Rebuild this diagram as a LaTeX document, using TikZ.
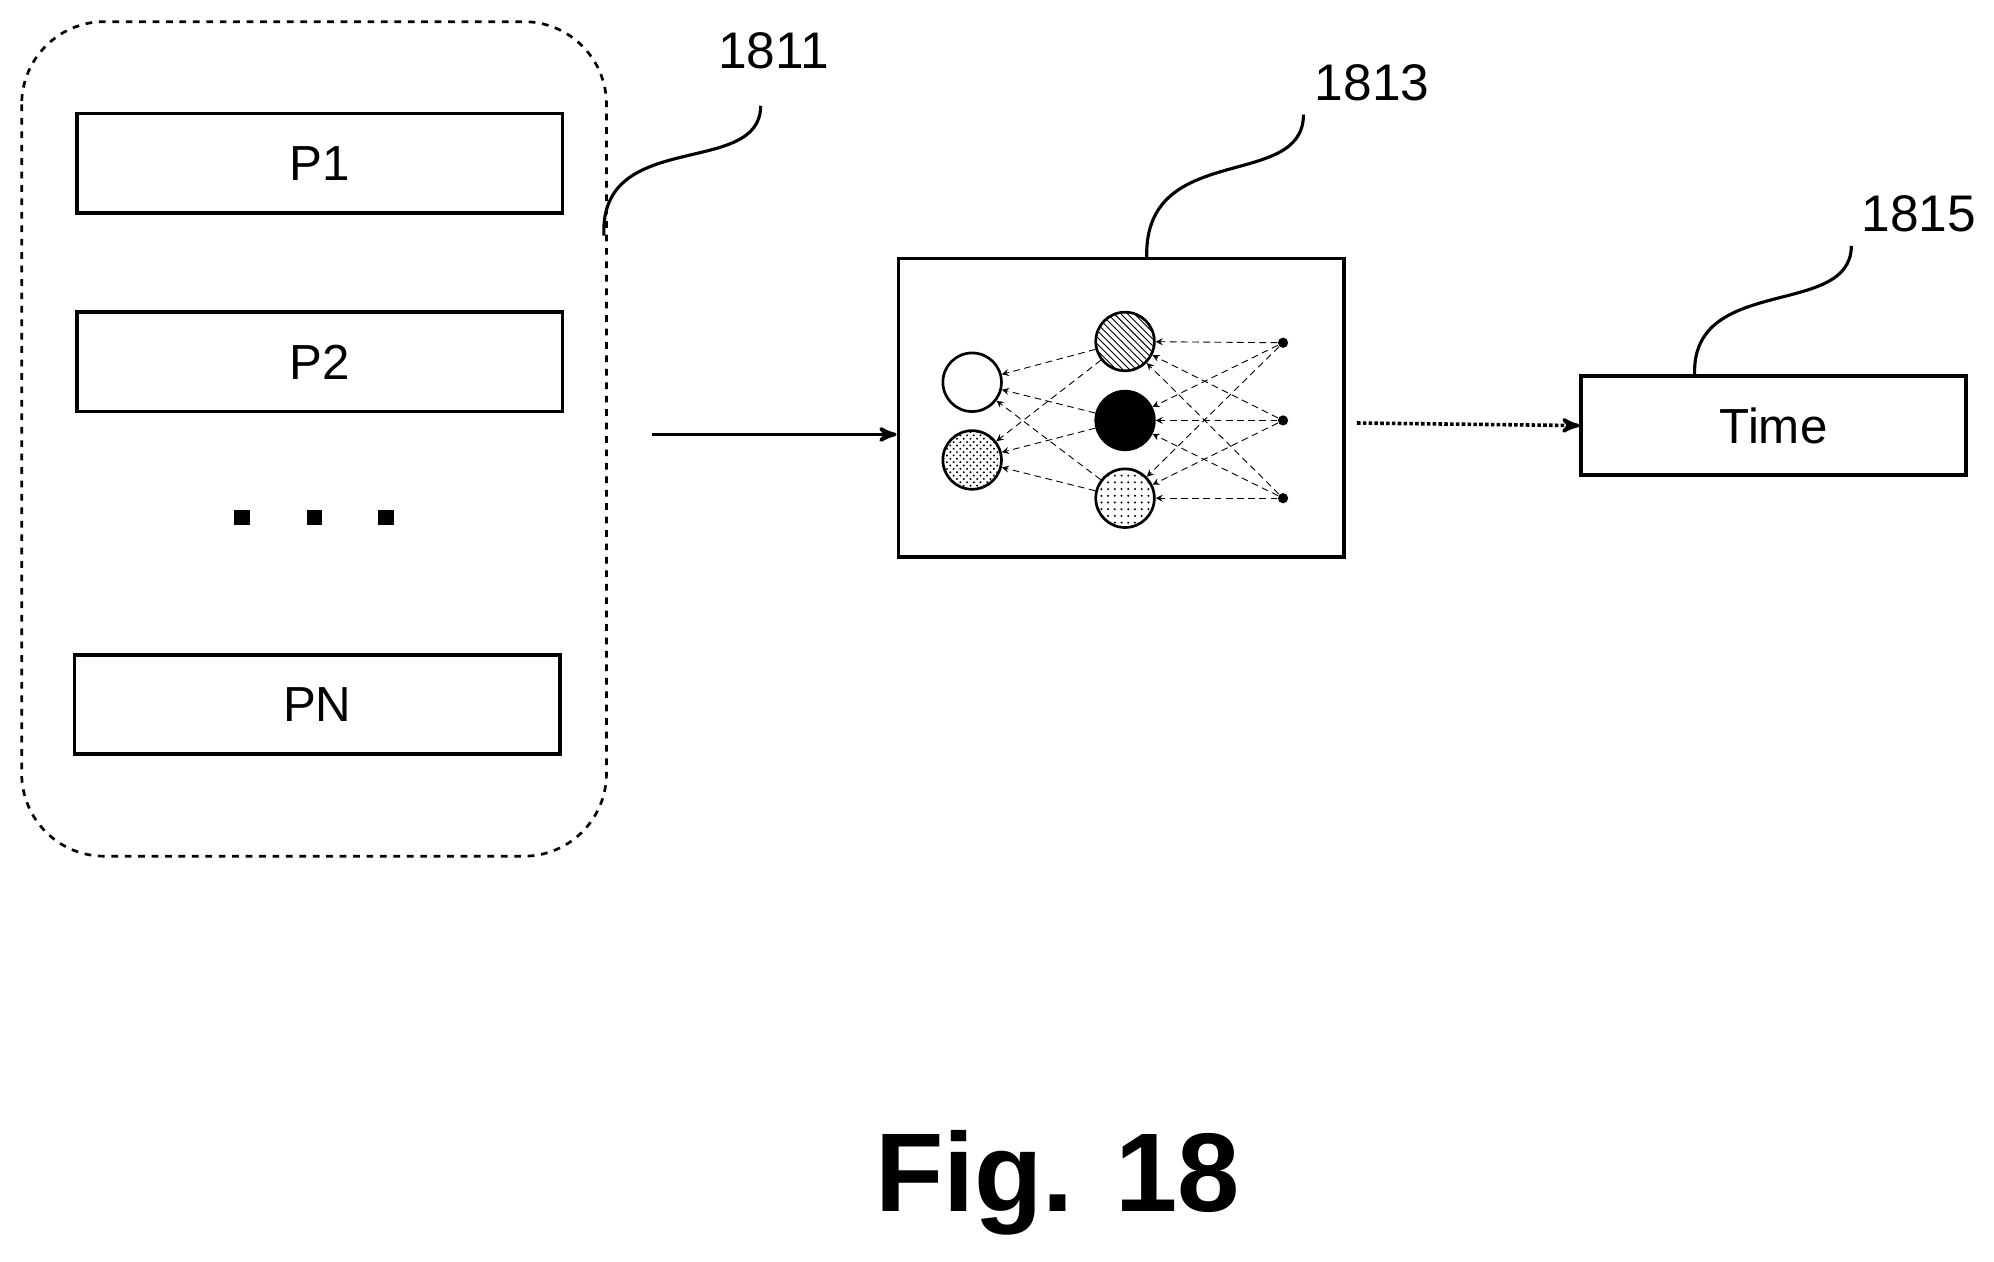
\documentclass[tikz,border=0pt]{standalone}
\usepackage{fontspec}
\setmainfont{Liberation Sans}
\usetikzlibrary{positioning,arrows,patterns}

\begin{document}
\begin{tikzpicture}[x=0.02cm,y=-0.02cm,>=stealth',semithick]
  \tikzset{
    pbox/.style={draw=black,line width=1.6pt,minimum width=7.62cm,minimum height=1.56cm,font=\fontsize{22}{26}\selectfont},
    neuron/.style={circle,draw=black,line width=1.2pt,minimum size=0.92cm,inner sep=0pt},
    inp/.style={circle,fill=black,minimum size=0.16cm,inner sep=0pt},
    wire/.style={->,densely dashed,thin,>=stealth},
    ref/.style={font=\fontsize{23}{27}\selectfont},
    lead/.style={line width=1.4pt}
  }
  \useasboundingbox (0,0) rectangle (1565,990);

  % inputs
  \draw[dashed,line width=1.2pt,rounded corners=1.3cm] (17,17) rectangle (476,672);
  \node[pbox] (P1) at (251,128) {P1};
  \node[pbox] (P2) at (251,284) {P2};
  \node[pbox] (PN) at (249,553) {PN};
  \foreach \x in {190,247,303}
    \fill (\x-6,400) rectangle (\x+6,412);

  % network
  \node[draw,line width=1.6pt,minimum width=7cm,minimum height=4.68cm] (net) at (880,320) {};
  \node[neuron] (o1) at (763,300) {};
  \node[neuron,pattern=crosshatch dots] (o2) at (763,361) {};
  \node[neuron,pattern=north west lines] (h1) at (883,268) {};
  \node[neuron,fill=black] (h2) at (883,330) {};
  \node[neuron,pattern=dots] (h3) at (883,391) {};
  \node[inp] (i1) at (1007,269) {};
  \node[inp] (i2) at (1007,330) {};
  \node[inp] (i3) at (1007,391) {};
  \foreach \a in {i1,i2,i3}
    \foreach \b in {h1,h2,h3}
      \draw[wire] (\a) -- (\b);
  \foreach \a in {h1,h2,h3}
    \foreach \b in {o1,o2}
      \draw[wire] (\a) -- (\b);

  % output
  \node[pbox,minimum width=6.04cm] (time) at (1392,334) {Time};
  \coordinate (a1) at (512,341);
  \coordinate (a2) at (1065,332);
  \draw[->,line width=1.6pt] (a1) -- (net.west |- a1);
  \draw[->,line width=1.6pt,densely dotted] (a2) -- (time.west);

  % reference numerals
  \node[ref] (r1811) at (607,40) {1811};
  \node[ref] (r1813) at (1077,65) {1813};
  \node[ref] (r1815) at (1506,168) {1815};
  \coordinate (c1811) at (474,185);
  \draw[lead] (c1811) .. controls (470,100) and (597,140) .. (597,83);
  \draw[lead] (net.north -| 900,0) .. controls (898,110) and (1023,150) .. (1023,90);
  \draw[lead] (time.north -| 1330,0) .. controls (1328,215) and (1453,250) .. (1453,193);

  \node[font=\bfseries\fontsize{50}{60}\selectfont] (fig) at (830,928) {Fig. 18};
\end{tikzpicture}
\end{document}
